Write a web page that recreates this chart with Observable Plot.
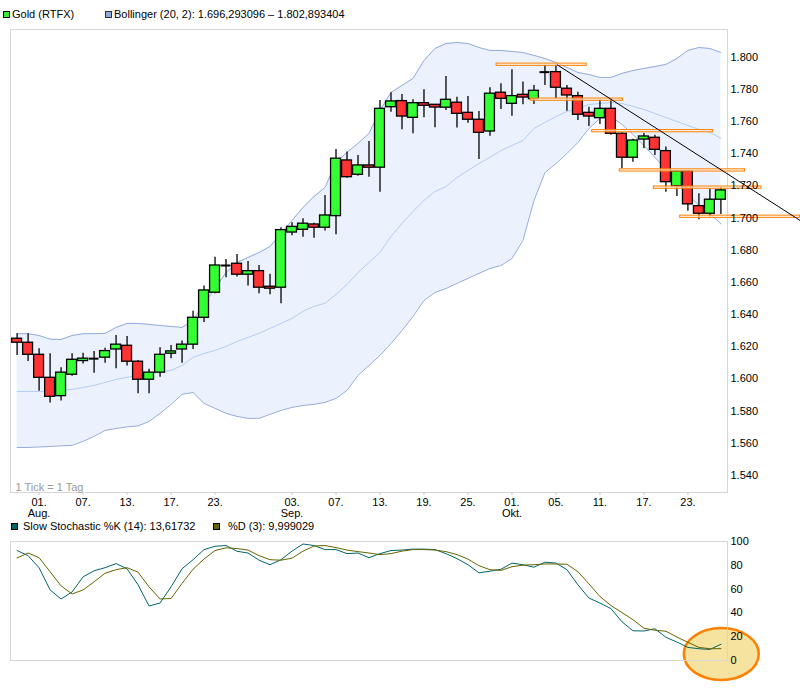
<!DOCTYPE html>
<html><head><meta charset="utf-8">
<script src="https://cdn.jsdelivr.net/npm/d3@7"></script>
<script src="https://cdn.jsdelivr.net/npm/@observablehq/plot@0.6"></script>
<style>
body{margin:0;background:#fff;}
#c{position:relative;width:800px;height:696px;overflow:hidden;font-family:"Liberation Sans",Arial,sans-serif;font-size:11px;color:#000;background:#fff;}
.t{position:absolute;white-space:nowrap;line-height:12px;}
.sw{position:absolute;width:7px;height:7px;box-sizing:border-box;border:1px solid #000;}
#main,#stoch{position:absolute;left:0;}
</style></head><body><div id="c">
<div id="main" style="top:0"></div>
<div id="stoch" style="top:530px"></div>
<div class="sw" style="left:3px;top:11px;background:#33ee33"></div>
<div class="t" style="left:12px;top:8px">Gold (RTFX)</div>
<div class="sw" style="left:105px;top:11px;background:#8ea9db;border-color:#333"></div>
<div class="t" style="left:114px;top:8px">Bollinger (20, 2): 1.696,293096 – 1.802,893404</div>
<div class="sw" style="left:11px;top:523px;background:#006666"></div>
<div class="t" style="left:23px;top:520px">Slow Stochastic %K (14): 13,61732</div>
<div class="sw" style="left:213px;top:523px;background:#666600"></div>
<div class="t" style="left:228px;top:520px">%D (3): 9,999029</div>
</div>
<script>
// ---- data ----
const open  = [1625.0,1622.5,1615.0,1600.7,1589.3,1602.6,1611.1,1612.6,1613.2,1618.3,1620.6,1610.7,1599.5,1603.9,1615.7,1618.3,1621.3,1638.0,1653.6,1670.5,1671.6,1664.8,1667.0,1657.3,1656.7,1691.0,1692.7,1696.0,1694.0,1701.2,1735.8,1726.9,1732.7,1731.3,1768.9,1772.7,1762.3,1771.4,1770.4,1768.6,1771.7,1765.4,1761.1,1753.8,1777.9,1771.0,1776.6,1773.9,1790.7,1790.7,1780.4,1775.8,1765.4,1762.1,1767.9,1752.4,1737.5,1748.8,1749.9,1741.6,1719.8,1729.1,1707.4,1702.7,1711.4];
const high  = [1628.1,1628.1,1618.8,1615.7,1607.0,1615.7,1616.0,1617.1,1619.1,1627.0,1626.4,1611.5,1606.0,1619.4,1620.8,1623.5,1642.0,1657.7,1675.7,1674.3,1677.4,1673.0,1670.5,1665.0,1694.0,1697.0,1699.6,1696.8,1714.0,1742.6,1741.0,1738.9,1747.6,1773.1,1777.9,1776.8,1773.5,1779.7,1770.6,1788.0,1775.1,1775.6,1766.3,1781.0,1783.5,1792.2,1784.5,1782.4,1795.0,1795.3,1782.4,1778.2,1768.9,1773.5,1774.1,1753.0,1749.0,1752.6,1751.5,1744.1,1729.5,1729.5,1715.1,1718.2,1719.2];
const low   = [1614.6,1610.9,1592.4,1585.0,1586.2,1601.7,1609.2,1603.6,1609.8,1606.3,1608.0,1590.8,1590.8,1601.1,1612.6,1609.8,1618.3,1635.0,1653.0,1662.9,1663.3,1657.7,1653.0,1652.3,1646.7,1689.0,1688.1,1687.5,1691.9,1689.6,1724.8,1726.0,1725.4,1716.1,1765.8,1754.9,1752.4,1762.3,1756.1,1766.9,1755.9,1759.0,1736.4,1750.9,1767.5,1763.3,1770.4,1770.6,1782.4,1774.1,1766.4,1760.7,1756.9,1758.2,1751.5,1730.6,1734.7,1743.1,1738.9,1716.1,1713.4,1704.3,1698.9,1700.6,1702.2];
const close = [1622.5,1615.0,1600.7,1588.9,1603.9,1611.9,1612.6,1612.6,1617.3,1621.3,1610.7,1599.5,1603.9,1615.0,1617.1,1621.3,1638.0,1655.0,1670.5,1670.5,1664.8,1667.0,1656.7,1656.1,1692.5,1694.5,1696.5,1694.0,1701.6,1736.9,1725.4,1732.7,1731.3,1767.9,1772.5,1763.1,1771.4,1769.8,1768.7,1773.5,1764.8,1761.1,1753.0,1777.3,1774.1,1775.8,1774.9,1779.1,1790.7,1781.0,1776.2,1764.2,1763.1,1767.9,1752.4,1737.5,1748.2,1750.7,1742.4,1722.3,1729.0,1708.5,1702.7,1711.4,1717.2];
const bbUpper  = [1628.1,1628.1,1627.0,1624.7,1624.5,1627.0,1628.1,1628.1,1628.3,1632.0,1634.5,1634.5,1633.9,1633.2,1632.6,1632.0,1636.4,1646.9,1656.2,1666.2,1672.4,1675.5,1678.6,1682.3,1690.4,1698.5,1706.6,1713.4,1719.0,1734.6,1740.8,1746.4,1752.6,1766.9,1778.1,1782.4,1786.8,1797.9,1805.4,1808.5,1809.1,1808.5,1806.0,1804.2,1804.2,1803.5,1802.9,1801.1,1799.2,1796.7,1793.6,1790.5,1789.2,1787.4,1787.4,1789.9,1791.7,1793.0,1794.2,1795.5,1799.2,1804.2,1806.0,1805.4,1802.9];
const bbMiddle = [1592.2,1592.2,1592.2,1592.2,1592.8,1593.5,1594.7,1596.0,1597.8,1599.7,1601.0,1602.2,1603.4,1604.1,1605.3,1608.4,1613.4,1615.8,1617.7,1620.2,1623.3,1625.8,1628.3,1631.4,1634.5,1637.6,1642.0,1645.1,1647.0,1652.5,1658.7,1666.2,1672.4,1678.6,1688.6,1696.6,1704.1,1710.9,1716.5,1719.6,1725.2,1729.6,1733.9,1737.7,1742.0,1745.1,1748.2,1755.7,1759.4,1763.1,1766.3,1768.1,1770.6,1771.2,1771.8,1771.2,1769.4,1767.5,1765.0,1762.5,1760.0,1757.5,1755.1,1753.2,1749.6];
const bbLower  = [1557.4,1557.4,1557.7,1558.0,1558.4,1558.7,1561.2,1564.3,1568.0,1569.2,1570.2,1570.8,1573.6,1578.6,1584.2,1590.4,1591.6,1584.8,1581.7,1578.6,1576.7,1575.5,1575.5,1578.0,1580.4,1582.3,1583.5,1584.2,1585.4,1587.9,1592.9,1602.2,1608.4,1614.6,1622.1,1630.1,1638.8,1648.8,1653.8,1656.2,1659.4,1662.5,1665.6,1668.7,1670.5,1674.9,1686.1,1710.9,1728.3,1733.9,1740.1,1747.0,1755.7,1761.9,1763.1,1758.2,1752.0,1745.1,1737.7,1730.2,1722.1,1714.7,1707.8,1702.9,1696.3];
const stochK = [92.4,88.1,77.9,59.3,51.7,57.6,70.3,75.4,78.0,81.4,77.1,63.6,45.8,48.3,61.9,77.1,84.7,93.2,96.0,96.6,91.8,90.3,84.3,80.5,84.7,91.9,97.9,96.6,93.2,93.2,89.8,90.3,86.4,89.8,92.4,92.8,93.6,93.6,93.2,89.8,85.6,80.5,73.7,75.0,76.7,81.8,80.5,78.4,82.6,81.9,76.3,63.6,52.5,48.3,43.6,32.6,25.0,24.8,26.7,19.5,15.5,11.0,9.9,9.3,13.6];
const stochD = [86.2,90.3,86.4,74.6,62.7,55.9,59.3,66.1,73.3,76.3,78.0,74.2,61.9,51.7,52.1,64.8,76.7,85.3,92.4,94.7,94.1,92.8,88.1,84.7,84.3,86.0,91.9,96.2,96.6,94.9,92.8,91.5,90.3,89.0,89.8,91.9,93.2,93.2,92.8,91.5,89.0,85.2,79.7,76.3,75.7,78.8,80.1,80.5,81.1,81.1,80.9,74.6,64.4,53.8,46.2,40.3,34.3,27.1,25.4,24.6,19.7,15.3,11.0,9.9,10.0];
// x tick positions (trading-day index) and labels
const xTickIndex  = [2,6,10,14,18,25,29,33,37,41,45,49,53,57,61];
const xTickLabels = ["01.\nAug.","07.","13.","17.","23.","03.\nSep.","07.","13.","19.","25.","01.\nOkt.","05.","11.","17.","23."];
const yTicks = [1540,1560,1580,1600,1620,1640,1660,1680,1700,1720,1740,1760,1780,1800];
const stochTicks = [0,20,40,60,80,100];
// annotations: horizontal support/resistance levels, trend line, highlight ellipse
const levelValue = [1795.3,1773.6,1754.0,1729.6,1718.9,1700.8];
const levelStart = [43.6,46.7,52.3,54.8,57.9,60.3];
const levelEnd   = [51.8,55.1,63.3,66.2,67.7,71.2];
const trendFrom = [49.1,1795.3];
const trendTo   = [71.2,1698.5];
const highlight = [64.08,5.0,3.41,21.8]; // center index, center value, radius index, radius value

// ---- build ----
const candles = open.map((o,i)=>({i,o,h:high[i],l:low[i],c:close[i],up:bbUpper[i],mid:bbMiddle[i],lo:bbLower[i]}));
const bodies = candles.filter(d=>Math.abs(d.o-d.c)>0.05);
const dojis = candles.filter(d=>Math.abs(d.o-d.c)<=0.05);
const levels = levelValue.map((v,k)=>({v,a:levelStart[k],b:levelEnd[k]}));
const stoch = stochK.map((k,i)=>({i,k,d:stochD[i]}));
const loc = d3.formatLocale({decimal:",",thousands:".",grouping:[3],currency:["",""]});
const fmt = loc.format(",");
const tickMap = new Map(xTickIndex.map((t,k)=>[t,xTickLabels[k]]));
const W = 0.45;

const mainPlot = Plot.plot({
  width: 800, height: 525,
  marginTop: 29, marginBottom: 33, marginLeft: 10, marginRight: 73,
  style: {background:"transparent", fontFamily:"Liberation Sans, Arial, sans-serif", fontSize:"11px", overflow:"visible"},
  x: {domain:[-0.6,64.6]},
  y: {domain:[1529.4,1817.2]},
  marks: [
    Plot.areaY(candles,{x:"i",y1:"lo",y2:"up",fill:"#ebf2fd"}),
    Plot.frame({stroke:"#d6d6d6"}),
    Plot.lineY(candles,{x:"i",y:"mid",stroke:"#b4ccf3",strokeWidth:1}),
    Plot.lineY(candles,{x:"i",y:"up",stroke:"#93aadd",strokeWidth:1}),
    Plot.lineY(candles,{x:"i",y:"lo",stroke:"#93aadd",strokeWidth:1}),
    Plot.ruleX(candles,{x:"i",y1:"l",y2:"h",stroke:"#000",strokeWidth:1.3}),
    Plot.rect(bodies,{x1:d=>d.i-W,x2:d=>d.i+W,y1:"o",y2:"c",fill:d=>d.c>=d.o?"#33ff33":"#ff3333",stroke:"#000",strokeWidth:1.3}),
    Plot.ruleY(dojis,{y:"c",x1:d=>d.i-W,x2:d=>d.i+W,stroke:"#000",strokeWidth:2}),
    Plot.rect(levels,{x1:"a",x2:"b",y1:d=>d.v-0.7,y2:d=>d.v+0.7,fill:"#fff4e6",fillOpacity:0.7,stroke:"#ff8000",strokeWidth:1}),
    Plot.link([0],{x1:()=>trendFrom[0],y1:()=>trendFrom[1],x2:()=>trendTo[0],y2:()=>trendTo[1],stroke:"#000",strokeWidth:1}),
    Plot.text(["1 Tick = 1 Tag"],{frameAnchor:"bottom-left",dx:5,dy:-2,fill:"#9a9a9a",textAnchor:"start",lineAnchor:"bottom"}),
    Plot.axisY({anchor:"right",ticks:yTicks,tickFormat:fmt,tickSize:0,tickPadding:3,label:null}),
    Plot.axisX({ticks:xTickIndex,tickFormat:d=>tickMap.get(d),tickSize:3,tickPadding:3,stroke:"#c8c8c8",fill:"#000",label:null})
  ]
});
document.getElementById("main").appendChild(mainPlot);

function highlightMark(index, scales) {
  const {x,y} = scales;
  const cx = x(highlight[0]), cy = y(highlight[1]);
  const rx = Math.abs(x(highlight[0]+highlight[2])-cx);
  const ry = Math.abs(y(highlight[1]+highlight[3])-cy);
  const e = document.createElementNS("http://www.w3.org/2000/svg","ellipse");
  e.setAttribute("cx",cx); e.setAttribute("cy",cy);
  e.setAttribute("rx",rx); e.setAttribute("ry",ry);
  e.setAttribute("fill","#f5e39f"); e.setAttribute("stroke","#ff8000"); e.setAttribute("stroke-width","2.5");
  return e;
}

const stochPlot = Plot.plot({
  width: 800, height: 160,
  marginTop: 11, marginBottom: 30, marginLeft: 10, marginRight: 73,
  style: {background:"transparent", fontFamily:"Liberation Sans, Arial, sans-serif", fontSize:"11px", overflow:"visible"},
  x: {domain:[-0.6,64.6], axis:null},
  y: {domain:[0,100]},
  marks: [
    highlightMark,
    Plot.frame({stroke:"#d6d6d6"}),
    Plot.lineY(stoch,{x:"i",y:"k",stroke:"#006666",strokeWidth:1}),
    Plot.lineY(stoch,{x:"i",y:"d",stroke:"#666600",strokeWidth:1}),
    Plot.axisY({anchor:"right",ticks:stochTicks,tickSize:0,tickPadding:3,label:null})
  ]
});
document.getElementById("stoch").appendChild(stochPlot);
</script>
</body></html>
